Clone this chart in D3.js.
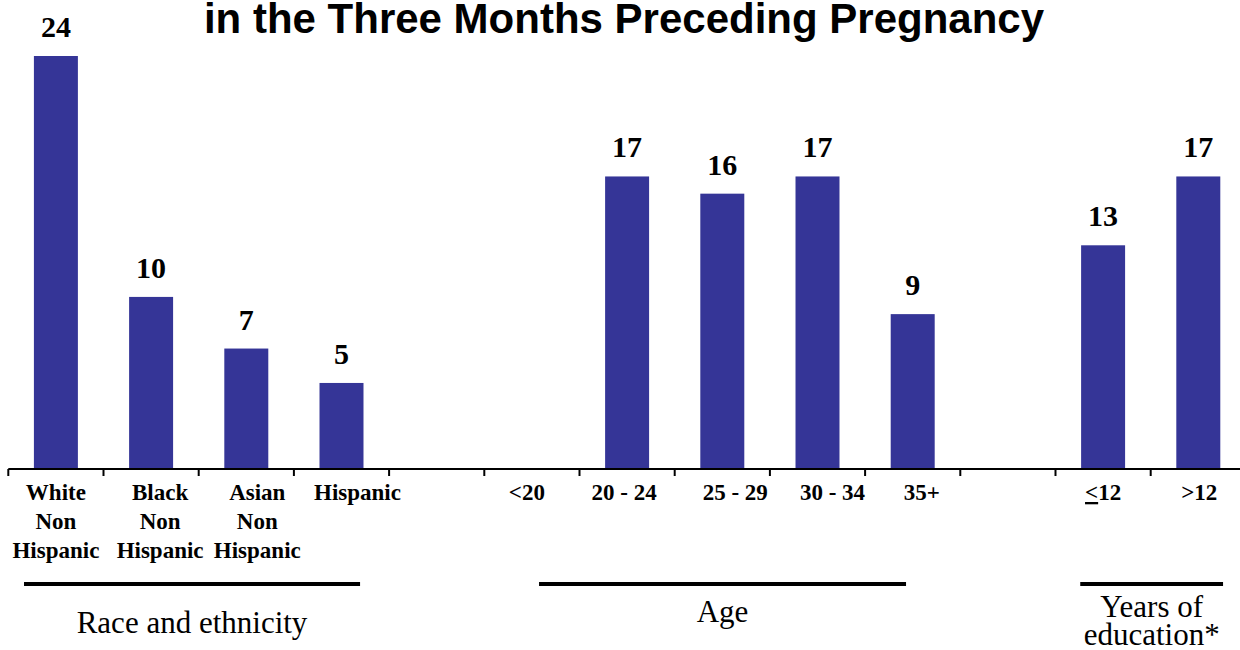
<!DOCTYPE html>
<html>
<head>
<meta charset="utf-8">
<script src="https://cdn.jsdelivr.net/npm/d3@7"></script>
<style>
  html, body { margin: 0; padding: 0; background: #ffffff; }
  svg { display: block; }
</style>
</head>
<body>
<svg id="chart" width="1240" height="650"></svg>
<script>
// Category slots along the axis (spacer slots keep the groups apart)
const categories = [
  "White Non Hispanic", "Black Non Hispanic", "Asian Non Hispanic", "Hispanic",
  "gap1",
  "<20", "20 - 24", "25 - 29", "30 - 34", "35+",
  "gap2",
  "<=12", ">12"
];

// Percent reporting, one per slot (null = no bar drawn)
const values = [24, 10, 7, 5, null, null, 17, 16, 17, 9, null, 13, 17];

// Tick label lines under each slot
const tickLabels = [
  ["White", "Non", "Hispanic"],
  ["Black", "Non", "Hispanic"],
  ["Asian", "Non", "Hispanic"],
  ["Hispanic"],
  [],
  ["<20"],
  ["20 - 24"],
  ["25 - 29"],
  ["30 - 34"],
  ["35+"],
  [],
  ["LE12"],
  [">12"]
];

// Grouping brackets below the axis
const groupNames = [["Race and ethnicity"], ["Age"], ["Years of", "education*"]];
const groupSpans = [[0.165, 3.695], [5.575, 9.43], [11.26, 12.76]];

const titleText = "in the Three Months Preceding Pregnancy";

// Small horizontal nudges of the tick labels
const labelNudge = [0, 9, 11, 16, 0, -5, -3, 13, 15, 9, 0, 0, 1];

const svg = d3.select("#chart");
const barColor = "#353597";
const serif = "'Liberation Serif', 'Times New Roman', serif";
const sans = "'Liberation Sans', Arial, Helvetica, sans-serif";

const x0 = 8.3, step = 95.2;
const x = d3.scaleBand()
  .domain(categories)
  .range([x0, x0 + step * categories.length])
  .paddingInner(0.538)
  .paddingOuter(0.269);

const baseY = 469;
const y = d3.scaleLinear().domain([0, 24]).range([baseY, 56]);

// slot index -> pixel, for the bracket lines
const slotPos = d3.scaleLinear().domain([0, categories.length]).range(x.range());

// Title
svg.append("text")
  .attr("x", 624).attr("y", 33)
  .attr("text-anchor", "middle")
  .attr("font-family", sans)
  .attr("font-weight", "bold")
  .attr("font-size", 42)
  .attr("fill", "#000")
  .text(titleText);

const data = categories.map((c, i) => ({ key: c, value: values[i], lines: tickLabels[i], nudge: labelNudge[i] }));

// Bars
svg.append("g").selectAll("rect")
  .data(data.filter(d => d.value != null))
  .join("rect")
  .attr("x", d => x(d.key))
  .attr("width", x.bandwidth())
  .attr("y", d => y(d.value))
  .attr("height", d => baseY - y(d.value))
  .attr("fill", barColor);

// Value labels
svg.append("g").selectAll("text")
  .data(data.filter(d => d.value != null))
  .join("text")
  .attr("x", d => x(d.key) + x.bandwidth() / 2)
  .attr("y", d => y(d.value) - 19)
  .attr("text-anchor", "middle")
  .attr("font-family", serif)
  .attr("font-weight", "bold")
  .attr("font-size", 30)
  .attr("fill", "#000")
  .text(d => d.value);

// Axis: baseline with ticks at slot boundaries
const axis = svg.append("g");
axis.append("line")
  .attr("x1", x0).attr("x2", 1240)
  .attr("y1", baseY).attr("y2", baseY)
  .attr("stroke", "#000").attr("stroke-width", 2);
axis.selectAll("line.tick")
  .data(d3.range(categories.length + 1))
  .join("line")
  .attr("class", "tick")
  .attr("x1", i => slotPos(i)).attr("x2", i => slotPos(i))
  .attr("y1", baseY).attr("y2", baseY + 7)
  .attr("stroke", "#000").attr("stroke-width", 2);

// Tick labels
const tl = svg.append("g").selectAll("text")
  .data(data)
  .join("text")
  .attr("x", d => x(d.key) + x.bandwidth() / 2 + d.nudge)
  .attr("y", 500)
  .attr("text-anchor", "middle")
  .attr("font-family", serif)
  .attr("font-weight", "bold")
  .attr("font-size", 23)
  .attr("fill", "#000");

tl.each(function(d) {
  const t = d3.select(this);
  d.lines.forEach((line, j) => {
    if (line === "LE12") {
      const ts = t.append("tspan").attr("x", x(d.key) + x.bandwidth() / 2 + d.nudge).attr("dy", j === 0 ? 0 : 29);
      ts.append("tspan").attr("text-decoration", "underline").text("<");
      ts.append("tspan").text("12");
    } else {
      t.append("tspan")
        .attr("x", x(d.key) + x.bandwidth() / 2 + d.nudge)
        .attr("dy", j === 0 ? 0 : 29)
        .text(line);
    }
  });
});

// Group brackets and names
const groupY = 584;
const groupBase = [633, 622, 617];
groupNames.forEach((names, i) => {
  const [a, b] = groupSpans[i];
  const xa = slotPos(a), xb = slotPos(b);
  svg.append("line")
    .attr("x1", xa).attr("x2", xb)
    .attr("y1", groupY).attr("y2", groupY)
    .attr("stroke", "#000").attr("stroke-width", 4);
  const t = svg.append("text")
    .attr("x", (xa + xb) / 2)
    .attr("y", groupBase[i])
    .attr("text-anchor", "middle")
    .attr("font-family", serif)
    .attr("font-size", 31)
    .attr("fill", "#000");
  names.forEach((n, j) => {
    t.append("tspan").attr("x", (xa + xb) / 2).attr("dy", j === 0 ? 0 : 28).text(n);
  });
});
</script>
</body>
</html>
